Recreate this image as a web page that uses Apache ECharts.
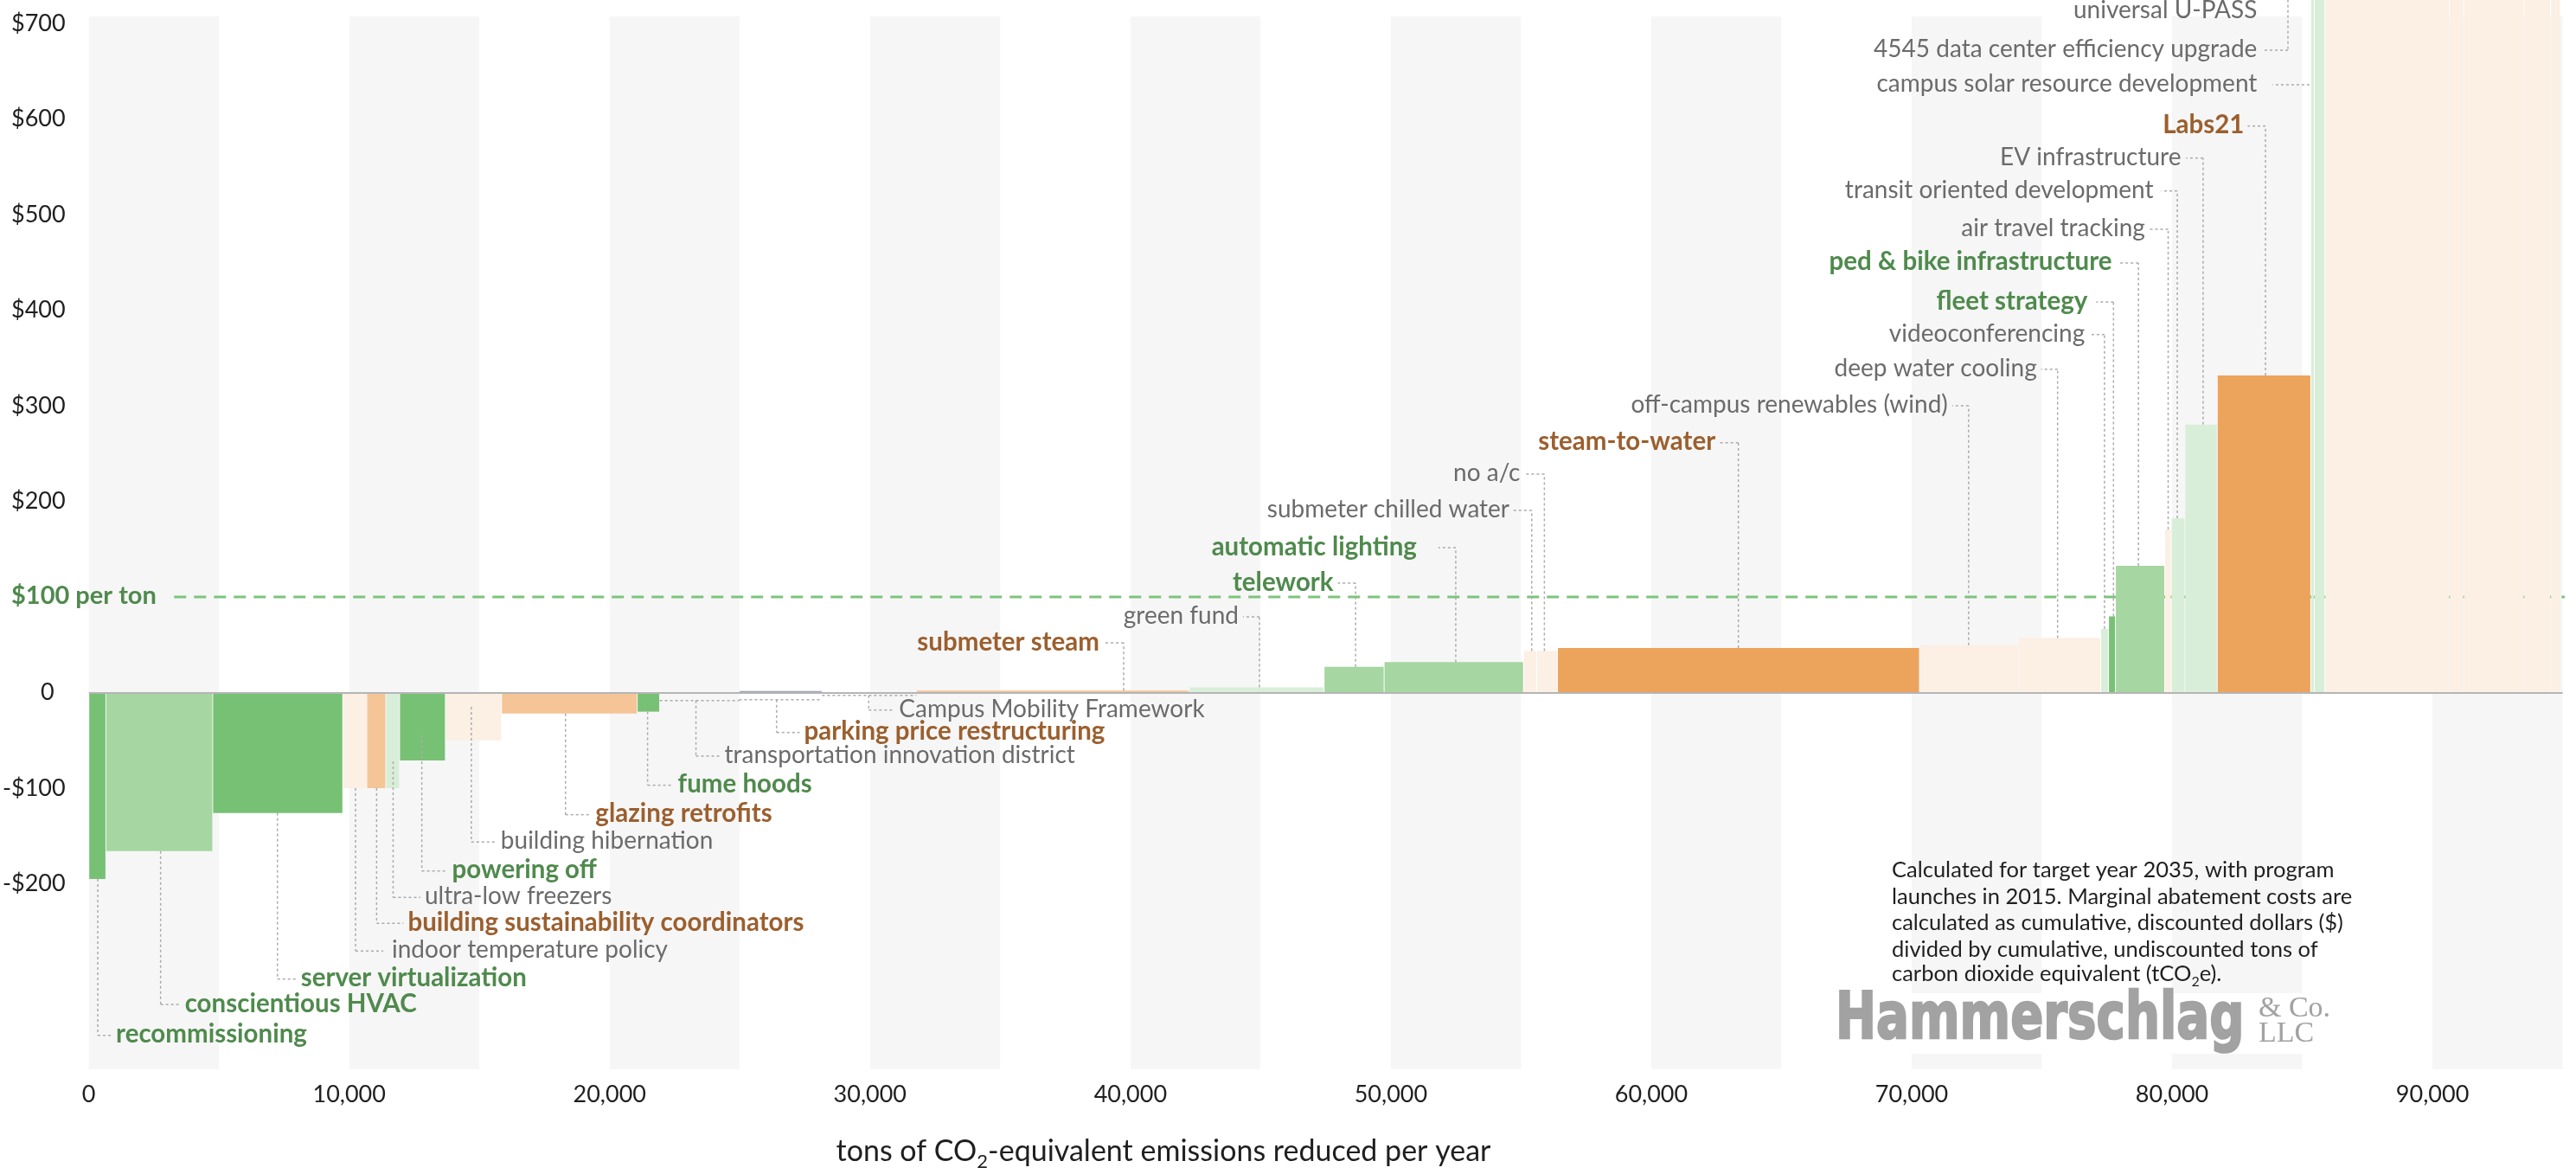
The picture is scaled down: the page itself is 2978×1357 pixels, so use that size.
<!DOCTYPE html>
<html>
<head>
<meta charset="utf-8">
<title>Marginal abatement cost curve</title>
<script src="https://cdn.jsdelivr.net/npm/echarts@6.0.0/dist/echarts.min.js"></script>
<style>
html,body{margin:0;padding:0;background:#ffffff;}
#chart{width:2978px;height:1357px;}
</style>
</head>
<body>
<div id="chart"></div>
<script>
// ---------------- data ----------------
const measures = [
  'recommissioning','conscientious HVAC','server virtualization','indoor temperature policy',
  'building sustainability coordinators','ultra-low freezers','powering off','building hibernation',
  'glazing retrofits','fume hoods','transportation innovation district','parking price restructuring',
  'Campus Mobility Framework','submeter steam','green fund','telework','automatic lighting',
  'submeter chilled water','no a/c','steam-to-water','off-campus renewables (wind)','deep water cooling',
  'videoconferencing','fleet strategy','ped & bike infrastructure','air travel tracking',
  'transit oriented development','EV infrastructure','Labs21','campus solar resource development',
  '4545 data center efficiency upgrade','universal U-PASS','','','',''
];
// tons of CO2e reduced per year (bar widths)
const tonsReduced = [655,4103,4996,920,729,531,1758,2157,5210,862,3053,3185,3617,10484,5176,2305,5352,
  507,800,13900,3797,3165,299,265,1892,249,524,1246,3588,133,414,4784,541,2313,1029,374];
// marginal abatement cost, $ per ton (bar heights)
const costPerTon = [-195,-166,-126,-100,-100,-100,-71,-50,-22,-20,-0.6,1.5,-0.6,2,5.5,27,32,
  43.5,43.5,46.6,49.6,57,66.7,79.7,132.6,170.7,182.4,280.5,331.8,760,800,850,900,950,1000,1100];
const colorGroup = ['G','LG','G','PO','LO','PG','G','PO','LO','G','PO','BG','PO','LO','PG','LG','LG',
  'PO','PO','O','PO','PO','PG','G','LG','PO','PG','PG','O','PG','PG','PO','PO','PO','PO','PO'];
const labelTone = ['green','green','green','gray','brown','gray','green','gray','brown','green','gray','brown',
  'gray','brown','gray','green','green','gray','gray','brown','gray','gray','gray','green','green','gray',
  'gray','gray','brown','gray','gray','gray'];
const xTickLabels = [0,10000,20000,30000,40000,50000,60000,70000,80000,90000];
const yTickLabels = [-200,-100,0,200,300,400,500,600,700];
const thresholdCost = 100;
const noteLines = [
  'Calculated for target year 2035, with program',
  'launches in 2015. Marginal abatement costs are',
  'calculated as cumulative, discounted dollars ($)',
  'divided by cumulative, undiscounted tons of'
];

// ---------------- styles / layout ----------------
const barColors = {G:'#77c175', LG:'#a6d6a1', PG:'#d9eed9', O:'#eca35b', LO:'#f5c597', PO:'#fcefe3', BG:'#9ea3b6'};
const toneColors = {green:'#4f8a4d', brown:'#9b5f2e', gray:'#6b6b6b'};

// leader lines: m = measure, cx = connector x (tons), from = start cost, ly = label cost,
// off = text offset (px) from connector, len = horizontal line length (px)
const labelLayout = [
  {m:0,  cx:345,   from:-195, ly:-358.7, off:21, len:17, side:'below'},
  {m:1,  cx:2757,  from:-166, ly:-326.4, off:28, side:'below'},
  {m:2,  cx:7243,  from:-126, ly:-299.8, off:27, side:'below'},
  {m:3,  cx:10242, from:-100, ly:-270.5, off:42, len:32, side:'below'},
  {m:4,  cx:11052, from:-100, ly:-241.5, off:36, side:'below'},
  {m:5,  cx:11686, from:-72,  ly:-214.4, off:36.5, side:'below'},
  {m:6,  cx:12787, from:-45,  ly:-186.7, off:35, side:'below'},
  {m:7,  cx:14688, from:-15,  ly:-156.4, off:34, side:'below'},
  {m:8,  cx:18305, from:-22,  ly:-127.8, off:34.6, side:'below'},
  {m:9,  cx:21457, from:-20,  ly:-97,    off:35, side:'below'},
  {m:10, cx:23315, from:-8.4, ly:-66.5,  off:33, side:'below', span:true},
  {m:11, cx:26413, from:-7.5, ly:-41.8,  off:31.6, side:'below', span:true},
  {m:12, cx:29950, from:-3,   ly:-18.3,  off:35, side:'below', span:true},
  {m:13, cx:39740, from:2,    ly:52,     off:28, side:'above'},
  {m:14, cx:44955, from:5.5,  ly:79.2,   off:24, side:'above'},
  {m:15, cx:48646, from:27,   ly:114.5,  off:25.5, side:'above'},
  {m:16, cx:52492, from:31.8, ly:151.6,  off:45, len:20, side:'above'},
  {m:17, cx:55410, from:43.5, ly:190.6,  off:25.7, len:22, side:'above'},
  {m:18, cx:55896, from:43.5, ly:228.6,  off:28, len:22, side:'above'},
  {m:19, cx:63345, from:46.6, ly:261.4,  off:26.5, len:23, side:'above'},
  {m:20, cx:72187, from:49.6, ly:300.1,  off:24, side:'above'},
  {m:21, cx:75604, from:57,   ly:338.3,  off:24, side:'above'},
  {m:22, cx:77405, from:66.7, ly:374.6,  off:22.7, side:'above'},
  {m:23, cx:77751, from:79.7, ly:408.7,  off:30, len:20, side:'above'},
  {m:24, cx:78709, from:132.6,ly:449.5,  off:30.6, len:22.6, side:'above'},
  {m:25, cx:79850, from:170.7,ly:484.8,  off:26.6, len:22.3, side:'above'},
  {m:26, cx:80199, from:182.4,ly:524.9,  off:27.5, len:18.5, side:'above'},
  {m:27, cx:81192, from:280.5,ly:559.3,  off:25.4, len:19.4, side:'above'},
  {m:28, cx:83587, from:331.8,ly:592.8,  off:24.6, len:20.6, side:'above'},
  {m:29, cx:85279, from:636,  ly:636,    off:60.6, len:42.6, side:'above'},
  {m:30, cx:84450, from:725,  ly:672.2,  off:35.6, len:27.6, side:'above'},
  {m:31, cx:84450, from:712.7,ly:712.7,  off:35.6, len:0, side:'above', noLine:true}
];

const starts = [];
let acc = 0;
tonsReduced.forEach(t => { starts.push(acc); acc += t; });
const barData = measures.map((n, i) => [starts[i], starts[i] + tonsReduced[i], costPerTon[i], i]);

const FONT = 'Lato, "Noto Sans", sans-serif';
const leader = {stroke:'#ababab', lineWidth:1.5, lineDash:[3,3], fill:null};

function renderBar(params, api) {
  const x0 = api.value(0), x1 = api.value(1), v = api.value(2), i = api.value(3);
  const p0 = api.coord([x0, 0]);
  const p1 = api.coord([x1, v]);
  const left = p0[0] + 0.5, right = p1[0] - 0.5;
  return {
    type: 'rect',
    shape: {x: left, y: Math.min(p0[1], p1[1]), width: Math.max(0.5, right - left), height: Math.max(1, Math.abs(p1[1] - p0[1]))},
    style: {fill: barColors[colorGroup[i]]}
  };
}

function renderLabel(params, api) {
  const L = labelLayout[params.dataIndex];
  const pFrom = api.coord([L.cx, L.from]);
  const pTo = api.coord([L.cx, L.ly]);
  const dir = L.side === 'below' ? 1 : -1;
  const len = (L.len !== undefined) ? L.len : L.off - 5;
  const children = [];
  if (!L.noLine) {
    if (Math.abs(pFrom[1] - pTo[1]) > 0.5) {
      children.push({type:'line', shape:{x1:pFrom[0], y1:pFrom[1], x2:pTo[0], y2:pTo[1]}, style: leader});
    }
    children.push({type:'line', shape:{x1:pTo[0], y1:pTo[1], x2:pTo[0] + dir * len, y2:pTo[1]}, style: leader});
    if (L.span) {
      const a = api.coord([starts[L.m], L.from]);
      const b = api.coord([starts[L.m] + tonsReduced[L.m], L.from]);
      children.push({type:'line', shape:{x1:a[0], y1:a[1], x2:b[0], y2:b[1]}, style: leader});
    }
  }
  const tone = labelTone[L.m];
  const bold = tone !== 'gray';
  children.push({
    type:'text', x: pTo[0] + dir * L.off, y: pTo[1] - 1,
    style:{text: measures[L.m], fill: toneColors[tone], fontSize: bold ? 29.5 : 28, fontFamily: FONT,
      fontWeight: bold ? 'bold' : 'normal', align: dir > 0 ? 'left' : 'right', verticalAlign:'middle'}
  });
  return {type:'group', children};
}

const NOTE_Y = 1006;
const noteStyle = {fontSize:25.5, fontFamily:FONT, fill:'#1f1f1f', verticalAlign:'middle'};
const noteGraphics = noteLines.map((t, k) => ({
  type:'text', z:100, x:2187, y:NOTE_Y + k * 30.5, style: Object.assign({text:t}, noteStyle)
}));

const chart = echarts.init(document.getElementById('chart'), null, {renderer:'canvas'});

const option = {
  animation: false,
  backgroundColor: '#ffffff',
  grid: {left: 99.3, right: 15.4, top: 19, bottom: 121.3, containLabel: false},
  xAxis: {
    type:'value', min:0, max:95000, interval:5000,
    axisLine:{show:false}, axisTick:{show:false}, splitLine:{show:false},
    splitArea:{show:true, areaStyle:{color:['#f6f6f6','#ffffff']}},
    axisLabel:{
      color:'#1f1f1f', fontSize:27, fontFamily:FONT, margin:16,
      formatter: v => xTickLabels.indexOf(v) >= 0 ? v.toLocaleString('en-US') : ''
    }
  },
  yAxis: {
    type:'value', min:-394, max:707.5,
    axisLine:{show:false}, axisTick:{show:false}, splitLine:{show:false},
    axisLabel:{
      customValues: yTickLabels,
      color:'#1f1f1f', fontSize:27, fontFamily:FONT, margin:27,
      formatter: v => v < 0 ? '-$' + (-v) : (v === 0 ? '{z|0}' : '$' + v),
      rich:{z:{fontSize:27, fontFamily:FONT, color:'#1f1f1f', padding:[0,13,0,0]}}
    }
  },
  series: [
    {
      type:'line', z:1, silent:true, clip:false, symbol:'none',
      data: [[3275, thresholdCost], [95600, thresholdCost]],
      lineStyle:{color:'#7cc57b', width:3, type:[14, 9]}
    },
    {
      type:'custom', z:2, silent:true, clip:false,
      renderItem: renderBar,
      encode:{x:[0,1], y:2},
      data: barData,
      markLine: {
        silent:true, symbol:'none', label:{show:false},
        lineStyle:{color:'#b5b5b5', width:2, type:'solid'},
        data:[{yAxis:0}]
      }
    },
    {
      type:'custom', z:3, silent:true, clip:false,
      renderItem: renderLabel,
      encode:{x:0, y:1},
      data: labelLayout.map((L, k) => [L.cx, L.ly, k])
    },
    {
      type:'custom', z:3, silent:true, clip:false,
      renderItem: (params, api) => {
        const p = api.coord([0, thresholdCost]);
        return {type:'text', x: 13, y: p[1] - 1,
          style:{text:'$100 per ton', fill:'#4f8a4d', fontSize:29, fontWeight:'bold', fontFamily:FONT, align:'left', verticalAlign:'middle'}};
      },
      encode:{x:0, y:1},
      data:[[0, thresholdCost]]
    }
  ],
  graphic: [
    {
      type:'text', x: 1345, y: 1334, z: 100,
      style:{
        text:'{a|tons of CO}{s|2}{a|-equivalent emissions reduced per year}',
        align:'center', verticalAlign:'middle',
        rich:{
          a:{fontSize:34, fontFamily:FONT, fill:'#1f1f1f', verticalAlign:'bottom', padding:[0,0,6,0]},
          s:{fontSize:22, fontFamily:FONT, fill:'#1f1f1f', verticalAlign:'bottom'}
        }
      }
    }
  ].concat(noteGraphics).concat([
    {
      type:'text', z:100, x:2187, y:NOTE_Y + 4 * 30.5,
      style:{
        text:'{a|carbon dioxide equivalent (tCO}{s|2}{a|e).}', verticalAlign:'middle',
        rich:{
          a:{fontSize:25.5, fontFamily:FONT, fill:'#1f1f1f', verticalAlign:'bottom', padding:[0,0,4,0]},
          s:{fontSize:16, fontFamily:FONT, fill:'#1f1f1f', verticalAlign:'bottom'}
        }
      }
    },
    {type:'rect', z:100, x:2112, y:1148, shape:{width:590, height:70}, style:{fill:'#ffffff'}},
    {
      type:'text', z:101, x:2122, y:1181, scaleX:0.76, scaleY:1,
      style:{text:'Hammerschlag', fontSize:74, fontWeight:'bold', fontFamily:'"DejaVu Sans", sans-serif',
        fill:'#a2a2a2', stroke:'#a2a2a2', lineWidth:2.5, verticalAlign:'middle'}
    },
    {type:'text', z:101, x:2611, y:1166, style:{text:'& Co.', fontSize:34, fontFamily:'"Liberation Serif", serif', fill:'#a2a2a2', verticalAlign:'middle'}},
    {type:'text', z:101, x:2611, y:1195, style:{text:'LLC', fontSize:34, fontFamily:'"Liberation Serif", serif', fill:'#a2a2a2', verticalAlign:'middle'}}
  ])
};

chart.setOption(option);
</script>
</body>
</html>
